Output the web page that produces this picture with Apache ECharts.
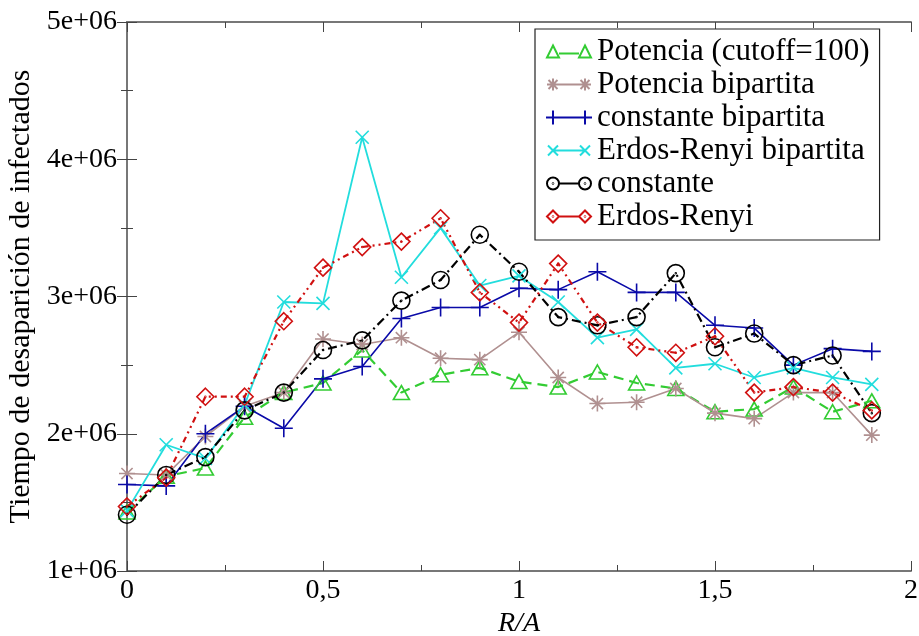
<!DOCTYPE html>
<html><head><meta charset="utf-8">
<script src="https://cdn.jsdelivr.net/npm/echarts@6/dist/echarts.min.js"></script>
<style>html,body{margin:0;padding:0;background:#fff}#c{width:919px;height:636px}</style>
</head><body><div id="c"></div>
<script>
const xValues = [0,0.1,0.2,0.3,0.4,0.5,0.6,0.7,0.8,0.9,1.0,1.1,1.2,1.3,1.4,1.5,1.6,1.7,1.8,1.9];
const potenciaCutoff = [1.43e6,1.69e6,1.75e6,2.12e6,2.30e6,2.37e6,2.61e6,2.30e6,2.43e6,2.48e6,2.38e6,2.34e6,2.45e6,2.37e6,2.33e6,2.16e6,2.18e6,2.34e6,2.16e6,2.24e6];
const potenciaBip = [1.71e6,1.70e6,1.98e6,2.20e6,2.30e6,2.69e6,2.65e6,2.70e6,2.55e6,2.54e6,2.74e6,2.41e6,2.22e6,2.23e6,2.33e6,2.15e6,2.11e6,2.30e6,2.30e6,1.99e6];
const constanteBip = [1.63e6,1.62e6,2.00e6,2.20e6,2.04e6,2.40e6,2.49e6,2.84e6,2.92e6,2.92e6,3.06e6,3.05e6,3.18e6,3.03e6,3.03e6,2.79e6,2.77e6,2.50e6,2.62e6,2.60e6];
const erdosBip = [1.44e6,1.92e6,1.82e6,2.21e6,2.96e6,2.95e6,4.16e6,3.14e6,3.50e6,3.08e6,3.15e6,2.96e6,2.70e6,2.76e6,2.48e6,2.51e6,2.41e6,2.48e6,2.41e6,2.36e6];
const constante = [1.41e6,1.70e6,1.83e6,2.17e6,2.30e6,2.61e6,2.68e6,2.97e6,3.12e6,3.45e6,3.18e6,2.85e6,2.79e6,2.85e6,3.17e6,2.63e6,2.73e6,2.50e6,2.57e6,2.15e6];
const erdos = [1.47e6,1.68e6,2.27e6,2.27e6,2.82e6,3.21e6,3.36e6,3.40e6,3.57e6,3.03e6,2.81e6,3.24e6,2.81e6,2.63e6,2.59e6,2.71e6,2.30e6,2.34e6,2.30e6,2.17e6];
const seriesNames = ['Potencia (cutoff=100)','Potencia bipartita','constante bipartita','Erdos-Renyi bipartita','constante','Erdos-Renyi'];
const yTicks = [1e6,2e6,3e6,4e6,5e6];
const xTicks = [0,0.5,1,1.5,2];

const FONT = "'Liberation Serif','Times New Roman',serif";
const pts = arr => xValues.map((x,i)=>[x,arr[i]]);

const SYM = {
  tri: 'path://M5,0 L10,8.66 L0,8.66 Z',
  star: 'path://M0,5 L10,5 M5,0 L5,10 M1.5,1.5 L8.5,8.5 M1.5,8.5 L8.5,1.5',
  plus: 'path://M0,5 L10,5 M5,0 L5,10',
  cross: 'path://M0,0 L10,10 M0,10 L10,0',
  circ: 'path://M10,5 A5,5 0 1,1 0,5 A5,5 0 1,1 10,5 Z M5.25,5 A0.25,0.25 0 1,1 4.75,5 A0.25,0.25 0 1,1 5.25,5 Z',
  diam: 'path://M5,0 L10,5 L5,10 L0,5 Z M5.25,5 A0.25,0.25 0 1,1 4.75,5 A0.25,0.25 0 1,1 5.25,5 Z'
};
// legend icons: marker - line - marker, in a 46x14 box
const LEG = {
  tri: 'path://M7,1 L13,13 L1,13 Z M13,9 L33,9 M39,1 L45,13 L33,13 Z M0,0 L0,0 M46,14 L46,14',
  star: 'path://M1,7 L13,7 M7,1 L7,13 M2.5,2.5 L11.5,11.5 M2.5,11.5 L11.5,2.5 M13,7 L33,7 M33,7 L45,7 M39,1 L39,13 M34.5,2.5 L43.5,11.5 M34.5,11.5 L43.5,2.5 M0,0 L0,0 M46,14 L46,14',
  plus: 'path://M0,7 L46,7 M7,0 L7,14 M39,0 L39,14',
  cross: 'path://M2,2 L12,12 M2,12 L12,2 M7,7 L39,7 M34,2 L44,12 M34,12 L44,2 M0,0 L0,0 M46,14 L46,14',
  circ: 'path://M13,7 A6,6 0 1,1 1,7 A6,6 0 1,1 13,7 Z M7.3,7 A0.3,0.3 0 1,1 6.7,7 A0.3,0.3 0 1,1 7.3,7 Z M13,7 L33,7 M45,7 A6,6 0 1,1 33,7 A6,6 0 1,1 45,7 Z M39.3,7 A0.3,0.3 0 1,1 38.7,7 A0.3,0.3 0 1,1 39.3,7 Z M0,0 L0,0 M46,14 L46,14',
  diam: 'path://M7,1 L13,7 L7,13 L1,7 Z M7.3,7 A0.3,0.3 0 1,1 6.7,7 A0.3,0.3 0 1,1 7.3,7 Z M13,7 L33,7 M39,1 L45,7 L39,13 L33,7 Z M39.3,7 A0.3,0.3 0 1,1 38.7,7 A0.3,0.3 0 1,1 39.3,7 Z M0,0 L0,0 M46,14 L46,14'
};
const legendIcons = [LEG.tri, LEG.star, LEG.plus, LEG.cross, LEG.circ, LEG.diam];

function mk(name, data, color, sym, size, lineType, lw) {
  return {
    name, type:'line', data: pts(data), xAxisIndex:0, yAxisIndex:0,
    symbol: sym, symbolSize: size, showAllSymbol: true,
    lineStyle: {color, width: lw, type: lineType},
    itemStyle: {color: 'rgba(0,0,0,0)', borderColor: color, borderWidth: 1.6},
    emphasis: {disabled: true}, animation: false
  };
}

const chart = echarts.init(document.getElementById('c'), null, {renderer:'canvas'});
const axisLine = {show:true, lineStyle:{color:'#777', width:2}};
chart.setOption({
  backgroundColor:'#fff',
  animation:false,
  grid:{left:127, right:8, top:22, bottom:65, containLabel:false, outerBoundsMode:'none'},
  legend:{
    orient:'vertical', left:535, top:29, width:344,
    padding:[7,10,8,10], itemGap:2, itemWidth:46, itemHeight:14,
    backgroundColor:'#fff', borderColor:'#222', borderWidth:1.2,
    textStyle:{fontFamily:FONT, fontSize:31, color:'#000'},
    data: seriesNames.map((n,i)=>({name:n, icon: legendIcons[i]}))
  },
  xAxis:[
    {type:'value', min:0, max:2, interval:0.5, position:'bottom',
     name:'R/A', nameLocation:'middle', nameGap:38,
     nameTextStyle:{fontFamily:FONT, fontSize:28, fontStyle:'italic', color:'#000'},
     axisLine, splitLine:{show:false},
     axisTick:{show:true, inside:true, length:10, lineStyle:{color:'#444'}},
     minorTick:{show:true, splitNumber:2, length:6, lineStyle:{color:'#444'}},
     axisLabel:{fontFamily:FONT, fontSize:28, color:'#000', margin:6,
       formatter: v => String(v).replace('.', ',')}},
    {type:'value', min:0, max:2, interval:0.5, position:'top',
     axisLine, splitLine:{show:false},
     axisTick:{show:true, inside:true, length:10, lineStyle:{color:'#444'}},
     minorTick:{show:true, splitNumber:2, length:6, lineStyle:{color:'#444'}},
     axisLabel:{show:false}}
  ],
  yAxis:[
    {type:'value', min:1e6, max:5e6, interval:1e6, position:'left',
     name:'Tiempo de desaparición de infectados', nameLocation:'middle', nameGap:76,
     nameTextStyle:{fontFamily:FONT, fontSize:30, color:'#000'},
     axisLine, splitLine:{show:false},
     axisTick:{show:true, inside:true, length:10, lineStyle:{color:'#444'}},
     minorTick:{show:true, splitNumber:2, length:6, lineStyle:{color:'#444'}},
     axisLabel:{fontFamily:FONT, fontSize:28, color:'#000', margin:10,
       formatter: v => (v/1e6) + 'e+06'}},
    {type:'value', min:1e6, max:5e6, interval:1e6, position:'right',
     axisLine, splitLine:{show:false},
     axisTick:{show:true, inside:true, length:10, lineStyle:{color:'#444'}},
     minorTick:{show:true, splitNumber:2, length:6, lineStyle:{color:'#444'}},
     axisLabel:{show:false}}
  ],
  series:[
    mk(seriesNames[0], potenciaCutoff, '#33cc33', SYM.tri, [16,14], [10,6], 2.2),
    mk(seriesNames[1], potenciaBip, '#b09090', SYM.star, 16, 'solid', 1.6),
    mk(seriesNames[2], constanteBip, '#0a0aa8', SYM.plus, 18, 'solid', 1.6),
    mk(seriesNames[3], erdosBip, '#22dddd', SYM.cross, 13, 'solid', 1.8),
    mk(seriesNames[4], constante, '#000000', SYM.circ, 17, [9,4,2,4], 2.2),
    mk(seriesNames[5], erdos, '#d01010', SYM.diam, 17, [6,4,2,4,2,4], 2.2)
  ]
});
</script></body></html>
